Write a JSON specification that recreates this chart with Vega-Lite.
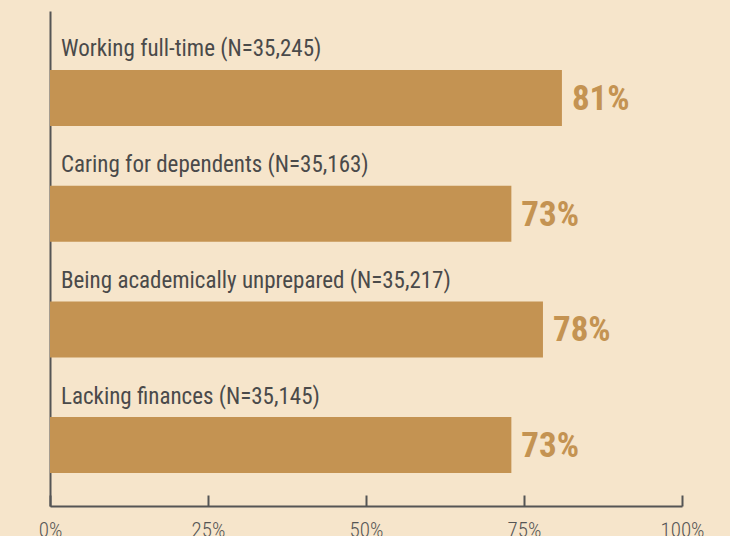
{
  "$schema": "https://vega.github.io/schema/vega-lite/v6.json",
  "width": 632,
  "height": 495,
  "autosize": {"type": "none"},
  "padding": {"left": 50, "top": 11, "right": 48, "bottom": 30},
  "background": "#F6E5CB",
  "config": {"view": {"stroke": null}, "font": "Roboto Condensed, Liberation Sans Narrow, Roboto, Liberation Sans, sans-serif"},
  "data": {
    "values": [
      {"factor": "Working full-time", "label": "Working full-time (N=35,245)", "pct": 0.81},
      {"factor": "Caring for dependents", "label": "Caring for dependents (N=35,163)", "pct": 0.73},
      {"factor": "Being academically unprepared", "label": "Being academically unprepared (N=35,217)", "pct": 0.78},
      {"factor": "Lacking finances", "label": "Lacking finances (N=35,145)", "pct": 0.73}
    ]
  },
  "encoding": {
    "y": {
      "field": "factor",
      "type": "nominal",
      "sort": null,
      "scale": {"paddingInner": 0.516, "paddingOuter": 0.397, "align": 0.642},
      "axis": {"title": null, "labels": false, "ticks": false, "domainColor": "#555555", "domainWidth": 2}
    }
  },
  "layer": [
    {
      "mark": {"type": "bar", "color": "#C49352"},
      "encoding": {
        "x": {
          "field": "pct",
          "type": "quantitative",
          "scale": {"domain": [0, 1]},
          "axis": {
            "title": null,
            "values": [0, 0.25, 0.5, 0.75, 1],
            "format": ".0%",
            "grid": false,
            "domainColor": "#555555",
            "domainWidth": 2,
            "tickColor": "#555555",
            "tickWidth": 2,
            "tickSize": -11,
            "labelFlush": false,
            "labelFontSize": 21,
            "labelFontWeight": 300,
            "labelColor": "#555555",
            "labelPadding": 24,
            "labelFont": "Roboto Condensed, Liberation Sans Narrow, Roboto, Liberation Sans, sans-serif"
          }
        }
      }
    },
    {
      "mark": {"type": "text", "align": "left", "baseline": "middle", "dx": 10, "dy": 1, "fontSize": 35, "fontWeight": "bold", "color": "#C49352"},
      "encoding": {
        "x": {"field": "pct", "type": "quantitative"},
        "text": {"field": "pct", "type": "quantitative", "format": ".0%"}
      }
    },
    {
      "mark": {"type": "text", "align": "left", "baseline": "alphabetic", "dx": 11, "dy": -41.5, "fontSize": 23, "color": "#4A4A4A"},
      "encoding": {
        "x": {"datum": 0},
        "text": {"field": "label"}
      }
    }
  ]
}
